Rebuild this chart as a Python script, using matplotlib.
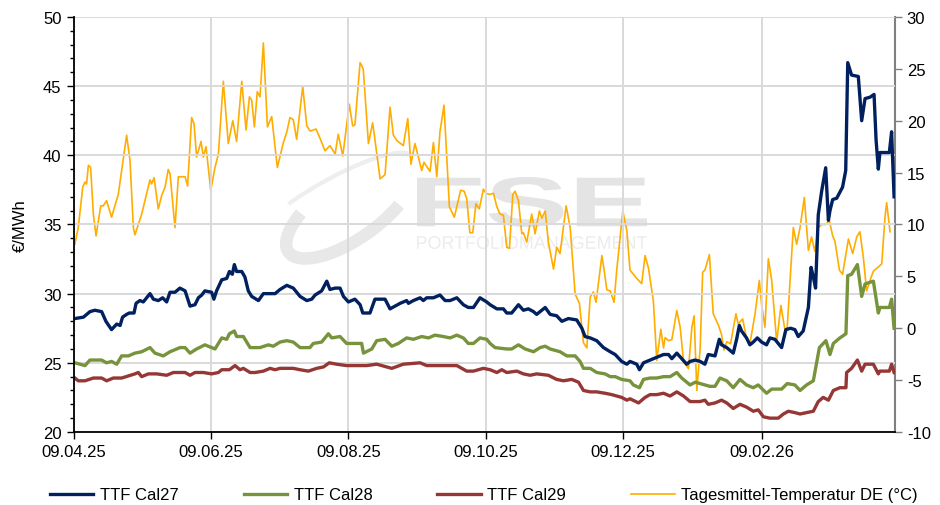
import numpy as np
import pandas as pd
import matplotlib
matplotlib.use("Agg")
import matplotlib.pyplot as plt
import matplotlib.dates as mdates
from matplotlib.ticker import MultipleLocator
from matplotlib.textpath import TextPath
from matplotlib.patches import PathPatch, Arc
from matplotlib.font_manager import FontProperties
from matplotlib.transforms import Affine2D, IdentityTransform

plt.rcParams['font.family'] = ['Liberation Sans', 'DejaVu Sans']
plt.rcParams['axes.unicode_minus'] = False

START = pd.Timestamp('2025-04-09')
X_TICKS = ['2025-04-09', '2025-06-09', '2025-08-09', '2025-10-09', '2025-12-09', '2026-02-09']

# days since 09.04.25 and values (EUR/MWh)
cal27_day = [0.4, 4.2, 7.1, 9.3, 12.3, 14.2, 16.7, 19.0, 20.5, 21.6, 23.4, 24.6, 26.7, 27.6, 29.3, 30.8,
             33.8, 35.3, 37.5, 39.4, 41.2, 42.7, 44.9, 47.1, 49.4, 51.6, 53.8, 55.3, 56.8, 58.2, 61.2,
             62.2, 63.4, 65.7, 67.9, 69.1, 70.4, 71.3, 72.3, 74.6, 76.0, 77.5, 79.0, 82.0, 84.2, 89.4,
             91.6, 94.6, 97.5, 100.5, 103.5, 105.7, 107.2, 110.1, 112.4, 113.8, 116.1, 118.3, 119.8,
             122.0, 124.9, 127.2, 128.4, 131.6, 133.8, 136.1, 138.3, 140.5, 142.7, 145.0, 147.9, 148.7,
             150.9, 153.9, 155.3, 156.8, 159.8, 162.7, 165.0, 167.2, 170.2, 173.1, 175.3, 177.6, 180.5,
             183.5, 185.0, 188.0, 190.9, 192.4, 194.6, 197.6, 199.8, 202.0, 204.3, 205.7, 209.5, 211.7,
             214.6, 216.9, 219.8, 223.5, 225.8, 227.2, 229.5, 232.4, 235.4, 238.4, 240.6, 243.5, 245.8,
             247.2, 250.2, 251.4, 253.2, 256.1, 259.1, 262.1, 264.3, 265.8, 268.0, 270.2, 272.4, 273.9,
             276.2, 278.4, 280.5, 282.0, 285.0, 286.9, 287.9, 290.2, 293.1, 294.6, 295.8, 296.8, 299.0,
             300.5, 302.0, 303.8, 305.7, 307.9, 309.4, 311.6, 314.6, 316.5, 318.6, 320.5, 322.0, 324.2,
             326.5, 327.7, 328.7, 329.7, 330.9, 332.4, 334.2, 335.4, 336.1, 337.3, 339.1, 341.7, 343.1,
             344.0, 345.7, 348.7, 350.2, 351.7, 353.9, 355.7, 356.6, 357.6, 358.3, 362.5, 363.5, 364.6]
cal27 = [28.2, 28.3, 28.7, 28.8, 28.7, 28.0, 27.4, 27.8, 27.7, 28.3, 28.5, 28.6, 28.6, 29.3, 29.5, 29.4,
         30.0, 29.6, 29.5, 29.7, 29.4, 30.1, 30.1, 30.4, 30.2, 29.1, 29.2, 29.7, 29.9, 30.2, 30.1,
         29.6, 30.2, 31.0, 31.1, 31.6, 31.4, 32.1, 31.6, 31.6, 31.2, 30.2, 29.8, 29.5, 30.0, 30.0,
         30.3, 30.6, 30.4, 29.8, 29.5, 29.6, 29.9, 30.2, 30.9, 30.3, 30.4, 30.4, 29.8,
         29.4, 29.6, 29.2, 28.6, 28.6, 29.6, 29.6, 29.6, 28.9, 29.1, 29.3, 29.5, 29.3,
         29.5, 29.7, 29.5, 29.7, 29.7, 29.9, 29.5, 29.5, 29.7, 29.2, 29.0, 29.0, 29.7,
         29.4, 29.2, 28.9, 28.9, 28.6, 28.6, 29.2, 28.8, 28.9, 28.7, 28.5, 29.0, 28.5,
         28.4, 28.0, 28.2, 28.1, 27.5, 26.9, 26.8, 26.6, 26.1, 25.8, 25.6, 25.1, 24.9,
         25.1, 24.9, 24.5, 25.0, 25.2, 25.4, 25.6, 25.6, 25.3, 25.7, 25.3, 24.9, 25.1,
         25.2, 25.1, 24.9, 25.6, 25.5, 26.7, 26.3, 26.1, 25.7, 26.7, 27.7, 27.3, 26.8,
         26.3, 26.5, 26.8, 26.5, 26.3, 26.8, 26.7, 26.1, 27.4, 27.5, 27.4, 26.9, 27.3,
         29.0, 31.9, 31.2, 30.4, 35.7, 37.4, 39.1, 35.3, 36.0, 36.8, 36.9, 37.7, 38.9,
         46.7, 45.8, 45.7, 42.5, 44.1, 44.2, 44.4, 41.1, 39.0, 40.2, 40.2, 41.7, 37.0]

cal28_day = [0.4, 4.9, 7.1, 12.3, 14.5, 16.7, 19.0, 21.2, 24.2, 27.1, 30.1, 33.8, 36.0, 39.7, 42.7,
             47.1, 49.4, 51.6, 54.5, 58.2, 61.2, 62.7, 65.7, 67.9, 69.1, 71.3, 72.3, 75.3, 78.3, 82.7,
             86.4, 88.6, 91.6, 94.6, 97.5, 100.5, 104.9, 106.4, 110.1, 113.1, 114.6, 118.3, 121.2,
             127.9, 128.7, 132.4, 134.6, 138.3, 141.3, 144.2, 147.9, 150.9, 154.6, 157.6, 160.5, 164.2,
             167.2, 170.2, 173.1, 175.3, 177.6, 180.5, 183.5, 185.0, 187.2, 192.4, 194.6, 197.6, 200.6,
             204.3, 207.2, 209.5, 211.7, 216.1, 219.1, 222.8, 225.0, 226.5, 229.5, 232.4, 236.1, 238.4,
             240.6, 243.5, 247.2, 248.7, 251.4, 253.2, 256.1, 259.1, 262.1, 265.0, 268.0, 270.2, 273.9,
             276.2, 280.5, 282.7, 285.0, 287.2, 290.2, 293.1, 296.1, 299.0, 302.0, 304.2, 307.9, 310.2,
             314.6, 317.1, 320.5, 322.8, 325.7, 328.7, 331.4, 334.3, 336.1, 337.6, 340.5, 343.2, 344.0,
             345.7, 348.3, 350.2, 351.7, 355.4, 357.6, 358.3, 362.5, 363.5, 364.6]
cal28 = [25.0, 24.8, 25.2, 25.2, 25.0, 25.1, 24.9, 25.5, 25.5, 25.7, 25.8, 26.1, 25.7, 25.5, 25.8,
         26.1, 26.1, 25.7, 26.0, 26.3, 26.1, 26.0, 26.8, 26.7, 27.1, 27.3, 26.9, 26.9, 26.1, 26.1,
         26.3, 26.2, 26.5, 26.6, 26.5, 26.1, 26.1, 26.4, 26.5, 27.1, 26.8, 26.9, 26.4,
         26.4, 25.7, 26.0, 26.6, 26.7, 26.2, 26.4, 26.8, 26.7, 26.9, 26.8, 27.0, 26.9,
         26.8, 27.0, 26.8, 26.4, 26.4, 26.8, 26.7, 26.4, 26.1, 26.0, 26.0, 26.3, 26.0,
         25.8, 26.1, 26.2, 26.0, 25.8, 25.5, 25.5, 25.1, 24.6, 24.6, 24.3, 24.2, 24.0,
         24.0, 23.8, 23.7, 23.4, 23.2, 23.8, 23.9, 23.9, 24.0, 24.0, 24.3, 23.9, 23.4,
         23.6, 23.4, 23.3, 23.3, 23.9, 23.7, 23.2, 23.8, 23.4, 23.2, 23.4, 22.8, 23.1,
         23.1, 23.5, 23.4, 23.0, 23.4, 23.7, 26.1, 26.6, 25.6, 26.4, 26.8, 27.1, 31.3,
         31.4, 32.1, 29.8, 30.7, 30.9, 28.6, 29.0, 29.0, 29.6, 27.5]

cal29_day = [0.4, 1.9, 4.9, 8.6, 12.3, 14.5, 17.5, 21.2, 27.1, 28.6, 30.1, 33.1, 36.8, 41.2, 44.2,
             49.4, 51.6, 53.8, 57.5, 61.2, 64.2, 65.7, 69.1, 71.6, 73.8, 75.3, 78.3, 80.5, 84.2, 87.2,
             89.4, 91.6, 97.5, 100.5, 104.2, 107.9, 110.9, 113.5, 116.8, 121.2, 125.7, 130.1, 134.6,
             141.3, 146.4, 153.9, 156.8, 161.3, 165.7, 170.2, 174.6, 177.6, 182.0, 185.0, 188.0, 190.2,
             192.4, 196.9, 199.8, 202.8, 205.7, 210.9, 214.6, 217.6, 221.3, 224.3, 226.5, 229.5, 232.4,
             236.1, 239.1, 243.5, 245.8, 247.2, 251.0, 253.9, 256.1, 259.1, 262.1, 265.0, 268.0, 271.0,
             273.9, 278.3, 280.5, 282.0, 285.0, 287.9, 290.2, 293.1, 296.1, 299.0, 302.0, 304.2, 306.5,
             309.4, 313.1, 315.4, 317.6, 320.5, 322.8, 325.7, 328.7, 330.9, 333.1, 335.4, 337.6, 340.5,
             343.2, 343.5, 345.7, 348.3, 350.2, 351.7, 355.4, 357.6, 358.3, 362.5, 363.5, 364.6]
cal29 = [23.9, 23.7, 23.7, 23.9, 23.9, 23.7, 23.9, 23.9, 24.2, 24.3, 24.0, 24.2, 24.2, 24.1, 24.3,
         24.3, 24.1, 24.3, 24.3, 24.2, 24.3, 24.5, 24.5, 24.8, 24.5, 24.6, 24.3, 24.3, 24.4, 24.6,
         24.5, 24.6, 24.6, 24.5, 24.4, 24.6, 24.7, 25.0, 24.9, 24.8, 24.8, 24.8, 24.9,
         24.6, 24.9, 25.0, 24.8, 24.8, 24.8, 24.8, 24.4, 24.4, 24.6, 24.5, 24.3, 24.5,
         24.3, 24.4, 24.2, 24.1, 24.2, 24.1, 23.8, 23.7, 23.8, 23.6, 23.0, 22.9, 22.9,
         22.8, 22.7, 22.5, 22.3, 22.4, 22.1, 22.5, 22.7, 22.7, 22.8, 22.6, 22.9, 22.6,
         22.2, 22.2, 22.3, 22.0, 22.1, 22.3, 22.1, 21.7, 22.0, 21.8, 21.5, 21.6, 21.1,
         21.0, 21.0, 21.3, 21.5, 21.4, 21.3, 21.4, 21.5, 22.2, 22.5, 22.3, 23.0, 23.2,
         23.2, 24.3, 24.6, 25.2, 24.4, 24.9, 24.9, 24.2, 24.4, 24.4, 24.9, 24.3]

# daily mean temperature DE (°C)
temp_day = [0.4, 1.9, 3.9, 4.9, 5.6, 6.4, 7.4, 8.6, 9.8, 11.9, 13.0, 14.5, 16.7, 19.7, 23.4, 24.9,
            26.4, 27.1, 30.1, 33.8, 34.5, 35.6, 37.5, 39.0, 40.5, 41.9, 42.7, 44.9, 46.4, 49.4, 50.5,
            52.3, 53.4, 54.5, 56.5, 57.5, 58.7, 60.8, 62.7, 64.2, 66.4, 68.6, 70.6, 72.3, 74.6, 76.5,
            78.0, 79.0, 80.2, 81.5, 82.7, 84.2, 86.0, 87.9, 90.4, 93.1, 94.6, 96.0, 97.5, 99.0, 101.7,
            103.5, 105.0, 107.6, 109.4, 111.6, 113.8, 116.1, 117.5, 119.5, 122.4, 123.9, 124.9, 127.2,
            128.6, 130.9, 132.8, 136.1, 138.3, 140.5, 142.0, 143.5, 146.4, 148.4, 149.8, 151.6, 154.6,
            155.6, 158.3, 159.8, 161.3, 162.7, 164.5, 166.9, 169.1, 171.9, 173.5, 174.6, 176.0, 177.3,
            178.7, 180.2, 182.0, 183.2, 184.7, 186.5, 188.0, 189.4, 190.9, 192.4, 193.6, 195.1, 196.1,
            197.6, 199.1, 199.8, 201.3, 203.5, 205.0, 206.9, 208.0, 209.5, 210.9, 213.2, 214.6, 216.1,
            218.8, 220.6, 222.8, 224.7, 226.5, 228.0, 229.5, 230.9, 232.1, 234.7, 235.7, 236.9, 238.4,
            240.1, 241.3, 244.0, 245.8, 247.2, 250.2, 252.4, 253.9, 255.4, 257.6, 259.1, 260.9, 262.1,
            262.8, 264.3, 265.8, 268.0, 269.5, 271.0, 273.2, 274.7, 275.7, 276.9, 278.4, 279.5, 280.5,
            282.5, 284.2, 286.5, 287.9, 289.0, 290.2, 291.9, 294.3, 295.3, 297.3, 299.0, 300.5, 302.8,
            304.7, 305.7, 307.2, 308.7, 310.2, 312.4, 314.3, 316.1, 317.1, 319.8, 321.3, 322.8, 324.7,
            326.5, 327.9, 329.4, 330.9, 332.4, 334.3, 335.8, 337.3, 338.3, 340.3, 341.7, 344.3, 346.2,
            348.0, 349.4, 350.9, 352.4, 353.9, 355.4, 357.6, 359.1, 360.6, 361.3, 362.0, 362.8]
temp = [8.1, 9.7, 13.6, 14.1, 13.9, 15.7, 15.5, 11.0, 8.9, 11.8, 11.8, 12.3, 10.7, 12.9, 18.6, 16.2,
        9.7, 9.0, 11.0, 14.3, 13.9, 14.5, 11.5, 12.8, 13.6, 15.3, 14.9, 9.7, 14.6, 14.6, 13.7,
        20.3, 19.7, 16.5, 18.0, 16.5, 17.5, 13.3, 15.5, 16.8, 23.8, 17.8, 20.0, 18.0, 23.8, 19.1,
        22.3, 22.0, 19.4, 22.8, 22.3, 27.5, 19.4, 20.4, 15.5, 17.9, 18.9, 20.3, 20.1, 18.2, 23.3,
        19.5, 19.0, 19.2, 18.3, 17.1, 17.6, 16.8, 18.7, 16.6, 21.6, 19.5, 19.6, 25.6,
        25.0, 17.8, 19.8, 14.4, 14.8, 21.3, 18.6, 18.1, 17.6, 20.2, 15.8, 17.8, 15.2,
        16.0, 15.1, 17.9, 14.6, 18.9, 21.5, 11.7, 10.7, 13.3, 13.2, 12.5, 9.2, 9.2,
        12.0, 11.5, 13.4, 13.0, 12.9, 13.0, 11.7, 11.0, 10.9, 7.8, 7.7, 12.9, 13.2,
        12.3, 9.1, 9.2, 8.3, 11.0, 9.1, 11.3, 10.6, 11.3, 8.3, 5.7, 7.8, 7.2,
        11.8, 9.7, 3.3, 2.4, -1.4, -1.9, 3.0, 3.5, 2.5, 7.0, 5.6, 3.7, 3.6,
        2.5, 5.6, 11.3, 9.4, 5.6, 4.8, 4.3, 7.0, 5.8, 2.6, -3.1, -0.1, -1.9,
        -0.9, -1.2, -1.1, 1.7, 0.1, -3.2, -3.9, 0.1, 1.2, -6.0, -1.9, 5.4, 5.6,
        7.1, 1.4, 0.3, -0.6, -2.1, -1.3, -1.5, 1.4, 0.4, 0.9, -1.0, -1.5, 1.4,
        4.6, 2.3, 0.1, 6.7, 4.6, -1.3, 2.2, -0.2, 0.1, 9.7, 8.1, 9.7, 12.6,
        7.5, 8.8, 7.4, 9.7, 10.0, 10.0, 10.4, 8.9, 8.4, 5.6, 5.2, 8.6, 7.2,
        8.8, 9.3, 6.9, 3.6, 4.6, 5.5, 5.9, 6.2, 10.8, 12.1, 10.8, 9.3]


def to_dates(days):
    return START + pd.to_timedelta(np.array(days), unit='D')


fig = plt.figure(figsize=(9.4, 5.06), dpi=100, facecolor='white')
ax = fig.add_axes([0.0787, 0.1443, 0.8734, 0.8202])
ax2 = ax.twinx()

# temperature on the right axis, drawn below the prices
ax2.plot(to_dates(temp_day), temp, color='#FFAD00', lw=1.2, label='Tagesmittel-Temperatur DE (°C)')
ax2.set_ylim(-10, 30)
ax2.yaxis.set_major_locator(MultipleLocator(5))
ax2.tick_params(axis='y', direction='out', length=5, width=1, colors='#808080', labelcolor='black',
                labelsize=12)
for s in ['top', 'left', 'bottom']:
    ax2.spines[s].set_visible(False)
ax2.spines['right'].set_color('#808080')
ax2.spines['right'].set_linewidth(1.5)

ax.set_zorder(ax2.get_zorder() + 1)
ax.patch.set_visible(False)
ax2.patch.set_visible(False)

l27, = ax.plot(to_dates(cal27_day), cal27, color='#002060', lw=2.4, label='TTF Cal27')
l28, = ax.plot(to_dates(cal28_day), cal28, color='#77933C', lw=2.4, label='TTF Cal28')
l29, = ax.plot(to_dates(cal29_day), cal29, color='#953735', lw=2.4, label='TTF Cal29')

ax.set_ylim(20, 50)
ax.set_xlim(START, START + pd.Timedelta(days=365))
ax.yaxis.set_major_locator(MultipleLocator(5))
ax.yaxis.set_minor_locator(MultipleLocator(1))
ax.set_xticks(pd.to_datetime(X_TICKS))
ax.xaxis.set_major_formatter(mdates.DateFormatter('%d.%m.%y'))
ax.tick_params(axis='both', which='major', direction='out', length=5, width=1, labelsize=12, pad=4)
ax.tick_params(axis='y', which='minor', direction='out', length=3, width=1)
ax.grid(True, which='major', color='#d9d9d9', lw=1.4)
ax.set_axisbelow(True)
ax.set_ylabel('€/MWh', fontsize=12, labelpad=11)
ax.spines['top'].set_visible(False)
ax.spines['right'].set_visible(False)
ax.spines['left'].set_linewidth(1.3)
ax.spines['bottom'].set_linewidth(1.3)

# watermark
def stretched_text(s, x0, y0, w, h, color, bold):
    fp = FontProperties(family='Liberation Sans', weight='bold' if bold else 'normal')
    tp = TextPath((0, 0), s, size=1, prop=fp)
    ext = tp.get_extents()
    tr = Affine2D().translate(-ext.x0, -ext.y0).scale(w / ext.width, h / ext.height).translate(x0, 506 - y0 - h)
    patch = PathPatch(tr.transform_path(tp), facecolor=color, edgecolor='none',
                      transform=IdentityTransform(), zorder=-5)
    fig.patches.append(patch)

stretched_text('FSE', 417, 178, 230, 50, '#e4e4e4', True)
stretched_text('PORTFOLIOMANAGEMENT', 417, 237, 230, 13, '#ececec', False)
fig.patches.append(Arc((350, 506 - 210), 150, 60, angle=35, theta1=150, theta2=330,
                       color='#e8e8e8', lw=9, transform=IdentityTransform(), zorder=-5))
fig.patches.append(Arc((330, 506 - 205), 190, 45, angle=30, theta1=0, theta2=150,
                       color='#eeeeee', lw=3, transform=IdentityTransform(), zorder=-5))

handles = [l27, l28, l29] + ax2.get_lines()
fig.legend(handles=handles, labels=[h.get_label() for h in handles], loc='lower left',
           bbox_to_anchor=(0.053, 0.005), ncol=4, frameon=False, fontsize=12,
           handlelength=2.6, handletextpad=0.4, columnspacing=3.9, borderpad=0, borderaxespad=0)

fig.savefig('out.png', dpi=100, facecolor='white')
